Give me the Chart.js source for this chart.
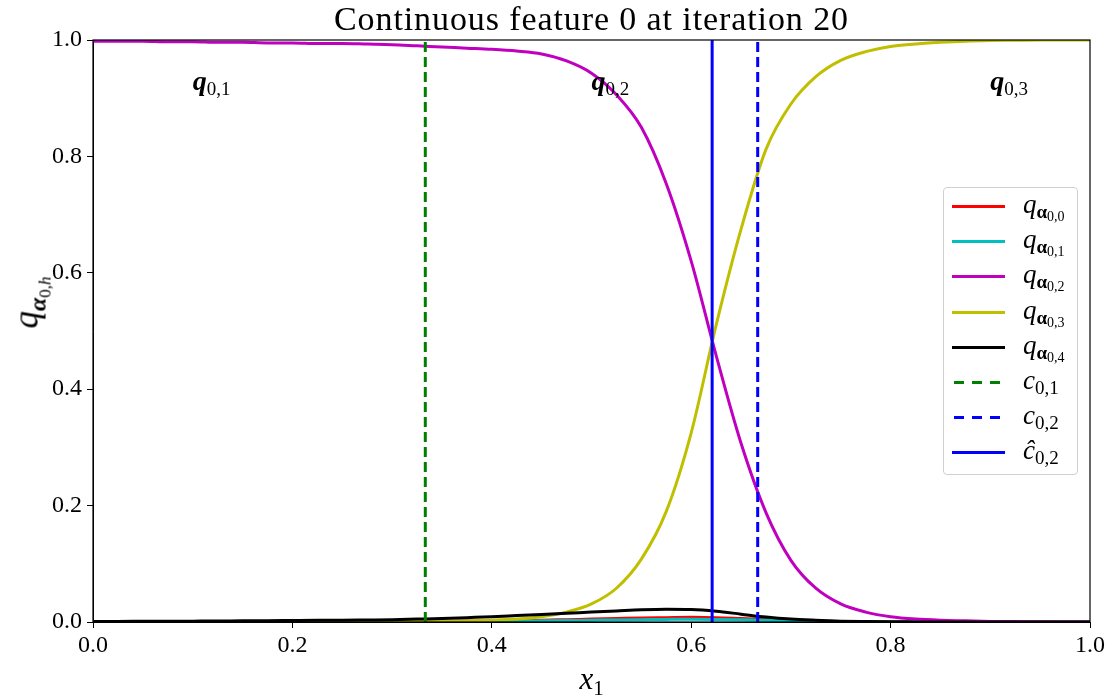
<!DOCTYPE html>
<html>
<head>
<meta charset="utf-8">
<script src="https://cdn.jsdelivr.net/npm/chart.js@4/dist/chart.umd.min.js"></script>
<style>
  html, body { margin: 0; padding: 0; background: #fff; }
  #wrap { position: relative; width: 1117px; height: 698px; font-family: "Liberation Serif", "DejaVu Serif", serif; color: #000; }
  #c { position: absolute; left: 0; top: 0; }
  .ov { position: absolute; white-space: nowrap; line-height: 1; }
  #title { left: 93px; width: 997px; top: 2px; text-align: center; font-size: 34px; letter-spacing: 0.9px; }
  #xlab { font-size: 31px; font-style: italic; }
  #ylab { font-size: 35px; transform-origin: center center; }
  sub { font-style: normal; line-height: 0; }
  .ann { font-size: 28px; }
  .ann b { font-style: italic; }
  .ann sub { font-size: 19px; vertical-align: -5px; }
  #legend { position: absolute; left: 943px; top: 187px; width: 133px; height: 286px; border: 1px solid #d0d0d0; border-radius: 4px; background: rgba(255,255,255,0.85); }
  .row { position: absolute; left: 0; width: 133px; height: 30px; }
  .sw { position: absolute; left: 8px; width: 53px; height: 3px; top: 14px; }
  .lt { position: absolute; left: 79px; top: 0px; font-size: 27px; font-style: italic; line-height: 1; }
  .lt sub.a { font-size: 19px; vertical-align: -5px; font-weight: bold; }
  .lt sub.a sub { font-size: 14px; vertical-align: -3px; font-weight: normal; }
  .lt sub.s { font-size: 19px; vertical-align: -5px; }
</style>
</head>
<body>
<div id="wrap">
  <canvas id="c" width="1117" height="698"></canvas>
  <div id="title" class="ov">Continuous feature 0 at iteration 20</div>
  <div id="xlab" class="ov">x<sub style="font-size:21px;vertical-align:-6px">1</sub></div>
  <div id="ylab" class="ov"><i>q</i><sub style="font-size:24px;vertical-align:-8px"><b><i>α</i></b><sub style="font-size:17px;vertical-align:-5px">0,<i>h</i></sub></sub></div>
  <div id="legend"></div>
</div>
<script>
// ---- data ----
const xValues = [0, 0.025, 0.05, 0.075, 0.1, 0.125, 0.15, 0.175, 0.2, 0.225, 0.25, 0.275, 0.3, 0.325, 0.35, 0.375, 0.4, 0.425, 0.45, 0.475, 0.5, 0.525, 0.55, 0.575, 0.6, 0.625, 0.65, 0.675, 0.7, 0.725, 0.75, 0.775, 0.8, 0.825, 0.85, 0.875, 0.9, 0.925, 0.95, 0.975, 1.0];
const qAlpha00 = [0, 0, 0, 0, 0, 0, 0, 0, 0, 0, 0, 0, 0.0003, 0.0005, 0.0008, 0.0013, 0.002, 0.0025, 0.003, 0.004, 0.005, 0.006, 0.007, 0.0075, 0.008, 0.0075, 0.006, 0.0045, 0.003, 0.0018, 0.001, 0.0005, 0.0002, 0, 0, 0, 0, 0, 0, 0, 0];
const qAlpha01 = [0, 0, 0, 0, 0, 0, 0, 0, 0, 0, 0, 0, 0.0002, 0.0003, 0.0005, 0.0007, 0.001, 0.0015, 0.002, 0.0025, 0.003, 0.0035, 0.004, 0.0045, 0.0048, 0.0045, 0.0038, 0.003, 0.002, 0.0012, 0.0007, 0.0003, 0.0001, 0, 0, 0, 0, 0, 0, 0, 0];
const qAlpha02 = [0.998, 0.998, 0.998, 0.997, 0.997, 0.996, 0.996, 0.995, 0.995, 0.994, 0.994, 0.993, 0.992, 0.99, 0.988, 0.986, 0.984, 0.981, 0.976, 0.964, 0.943, 0.906, 0.85, 0.753, 0.62, 0.458, 0.307, 0.188, 0.106, 0.058, 0.031, 0.017, 0.009, 0.005, 0.003, 0.002, 0.001, 0.0007, 0.0004, 0.0002, 0.0001];
const qAlpha03 = [0, 0, 0, 0, 0, 0, 0, 0, 0, 0, 0, 0, 0.0005, 0.0008, 0.001, 0.002, 0.003, 0.005, 0.009, 0.017, 0.031, 0.058, 0.108, 0.19, 0.325, 0.51, 0.675, 0.812, 0.89, 0.937, 0.965, 0.98, 0.989, 0.993, 0.996, 0.998, 0.999, 0.9995, 1.0, 1.0, 1.0];
const qAlpha04 = [0.001, 0.001, 0.0012, 0.0013, 0.0015, 0.0017, 0.002, 0.0022, 0.0025, 0.0028, 0.003, 0.0035, 0.004, 0.005, 0.006, 0.0075, 0.009, 0.011, 0.013, 0.015, 0.017, 0.019, 0.021, 0.022, 0.0215, 0.0185, 0.0135, 0.0085, 0.005, 0.003, 0.0015, 0.0008, 0.0004, 0.0002, 0, 0, 0, 0, 0, 0, 0];
const cut01 = 0.3333;
const cut02 = 0.6667;
const cutHat02 = 0.621;
const xTicks = [0, 0.2, 0.4, 0.6, 0.8, 1.0];
const yTicks = [0, 0.2, 0.4, 0.6, 0.8, 1.0];
const regionLabels = [{x: 0.1, y: 0.93, sub: "0,1"}, {x: 0.5, y: 0.93, sub: "0,2"}, {x: 0.9, y: 0.93, sub: "0,3"}];

// ---- styling ----
const colors = ['#ff0000', '#00bfbf', '#bf00bf', '#bfbf00', '#000000', '#008000', '#0000ff', '#0000ff'];
const toPts = (ys) => xValues.map((x, i) => ({x: x, y: ys[i]}));
const vline = (x) => [{x: x, y: 0}, {x: x, y: 1}];

const curveSeries = [qAlpha00, qAlpha01, qAlpha02, qAlpha03, qAlpha04];
const datasets = [];
curveSeries.forEach((s, i) => {
  datasets.push({
    label: 'q_alpha_0,' + i, data: toPts(s), borderColor: colors[i], backgroundColor: colors[i],
    borderWidth: 3, pointRadius: 0, cubicInterpolationMode: 'monotone', order: 10 - i
  });
});
datasets.push({label: 'c_0,1', data: vline(cut01), borderColor: colors[5], borderWidth: 3, borderDash: [10, 5], pointRadius: 0, order: 3});
datasets.push({label: 'c_0,2', data: vline(cut02), borderColor: colors[6], borderWidth: 3, borderDash: [10, 5], pointRadius: 0, order: 2});
datasets.push({label: 'chat_0,2', data: vline(cutHat02), borderColor: colors[7], borderWidth: 3, pointRadius: 0, order: 1});

const frame = {
  id: 'frame',
  afterDatasetsDraw(chart) {
    const a = chart.chartArea, ctx = chart.ctx;
    ctx.save();
    ctx.strokeStyle = '#000';
    ctx.lineWidth = 1.2;
    ctx.strokeRect(a.left, a.top, a.right - a.left, a.bottom - a.top);
    ctx.restore();
  }
};

const tickFont = {family: '"Liberation Serif", "DejaVu Serif", serif', size: 24};
const chart = new Chart(document.getElementById('c'), {
  type: 'line',
  data: {datasets: datasets},
  options: {
    responsive: false, animation: false, devicePixelRatio: 1,
    layout: {padding: {top: 40, right: 27, left: 0, bottom: 0}},
    plugins: {legend: {display: false}, tooltip: {enabled: false}, title: {display: false}},
    scales: {
      x: {
        type: 'linear', min: 0, max: 1,
        afterBuildTicks: (s) => { s.ticks = xTicks.map(v => ({value: v})); },
        afterFit: (s) => { s.height = 76; },
        ticks: {font: tickFont, color: '#000', padding: 3, maxRotation: 0, callback: (v) => Number(v).toFixed(1)},
        grid: {display: true, drawOnChartArea: false, drawTicks: true, tickLength: 6, color: '#000'},
        border: {display: true, color: '#000', width: 1}
      },
      y: {
        type: 'linear', min: 0, max: 1,
        afterBuildTicks: (s) => { s.ticks = yTicks.map(v => ({value: v})); },
        afterFit: (s) => { s.width = 93; },
        ticks: {font: tickFont, color: '#000', padding: 5, callback: (v) => Number(v).toFixed(1)},
        grid: {display: true, drawOnChartArea: false, drawTicks: true, tickLength: 6, color: '#000'},
        border: {display: true, color: '#000', width: 1}
      }
    }
  },
  plugins: [frame]
});

// ---- text overlays positioned from the chart's scales ----
const wrap = document.getElementById('wrap');
const xs = chart.scales.x, ys = chart.scales.y, area = chart.chartArea;
regionLabels.forEach(r => {
  const d = document.createElement('div');
  d.className = 'ov ann';
  d.innerHTML = '<b>q</b><sub>' + r.sub + '</sub>';
  wrap.appendChild(d);
  d.style.left = xs.getPixelForValue(r.x) + 'px';
  d.style.top = (ys.getPixelForValue(r.y) - d.offsetHeight / 2) + 'px';
});
const xl = document.getElementById('xlab');
xl.style.left = ((area.left + area.right) / 2 - xl.offsetWidth / 2) + 'px';
xl.style.top = (663) + 'px';
const yl = document.getElementById('ylab');
yl.style.left = (27 - yl.offsetWidth / 2) + 'px';
yl.style.top = (302 - yl.offsetHeight / 2) + 'px';
yl.style.transform = 'rotate(-90deg)';

// legend
const legendItems = [
  {html: 'q<sub class="a">α<sub>0,0</sub></sub>', color: colors[0], dash: false},
  {html: 'q<sub class="a">α<sub>0,1</sub></sub>', color: colors[1], dash: false},
  {html: 'q<sub class="a">α<sub>0,2</sub></sub>', color: colors[2], dash: false},
  {html: 'q<sub class="a">α<sub>0,3</sub></sub>', color: colors[3], dash: false},
  {html: 'q<sub class="a">α<sub>0,4</sub></sub>', color: colors[4], dash: false},
  {html: 'c<sub class="s">0,1</sub>', color: colors[5], dash: true},
  {html: 'c<sub class="s">0,2</sub>', color: colors[6], dash: true},
  {html: 'ĉ<sub class="s">0,2</sub>', color: colors[7], dash: false}
];
const lg = document.getElementById('legend');
legendItems.forEach((it, i) => {
  const row = document.createElement('div');
  row.className = 'row';
  row.style.top = (3 + i * 35.2) + 'px';
  const sw = document.createElement('div');
  sw.className = 'sw';
  sw.style.background = it.dash
    ? 'repeating-linear-gradient(to right, ' + it.color + ' 0 10px, transparent 10px 18px)'
    : it.color;
  if (it.dash) { sw.style.left = '10px'; sw.style.width = '52px'; }
  const t = document.createElement('div');
  t.className = 'lt';
  t.innerHTML = it.html;
  row.appendChild(sw); row.appendChild(t);
  lg.appendChild(row);
});
</script>
</body>
</html>
